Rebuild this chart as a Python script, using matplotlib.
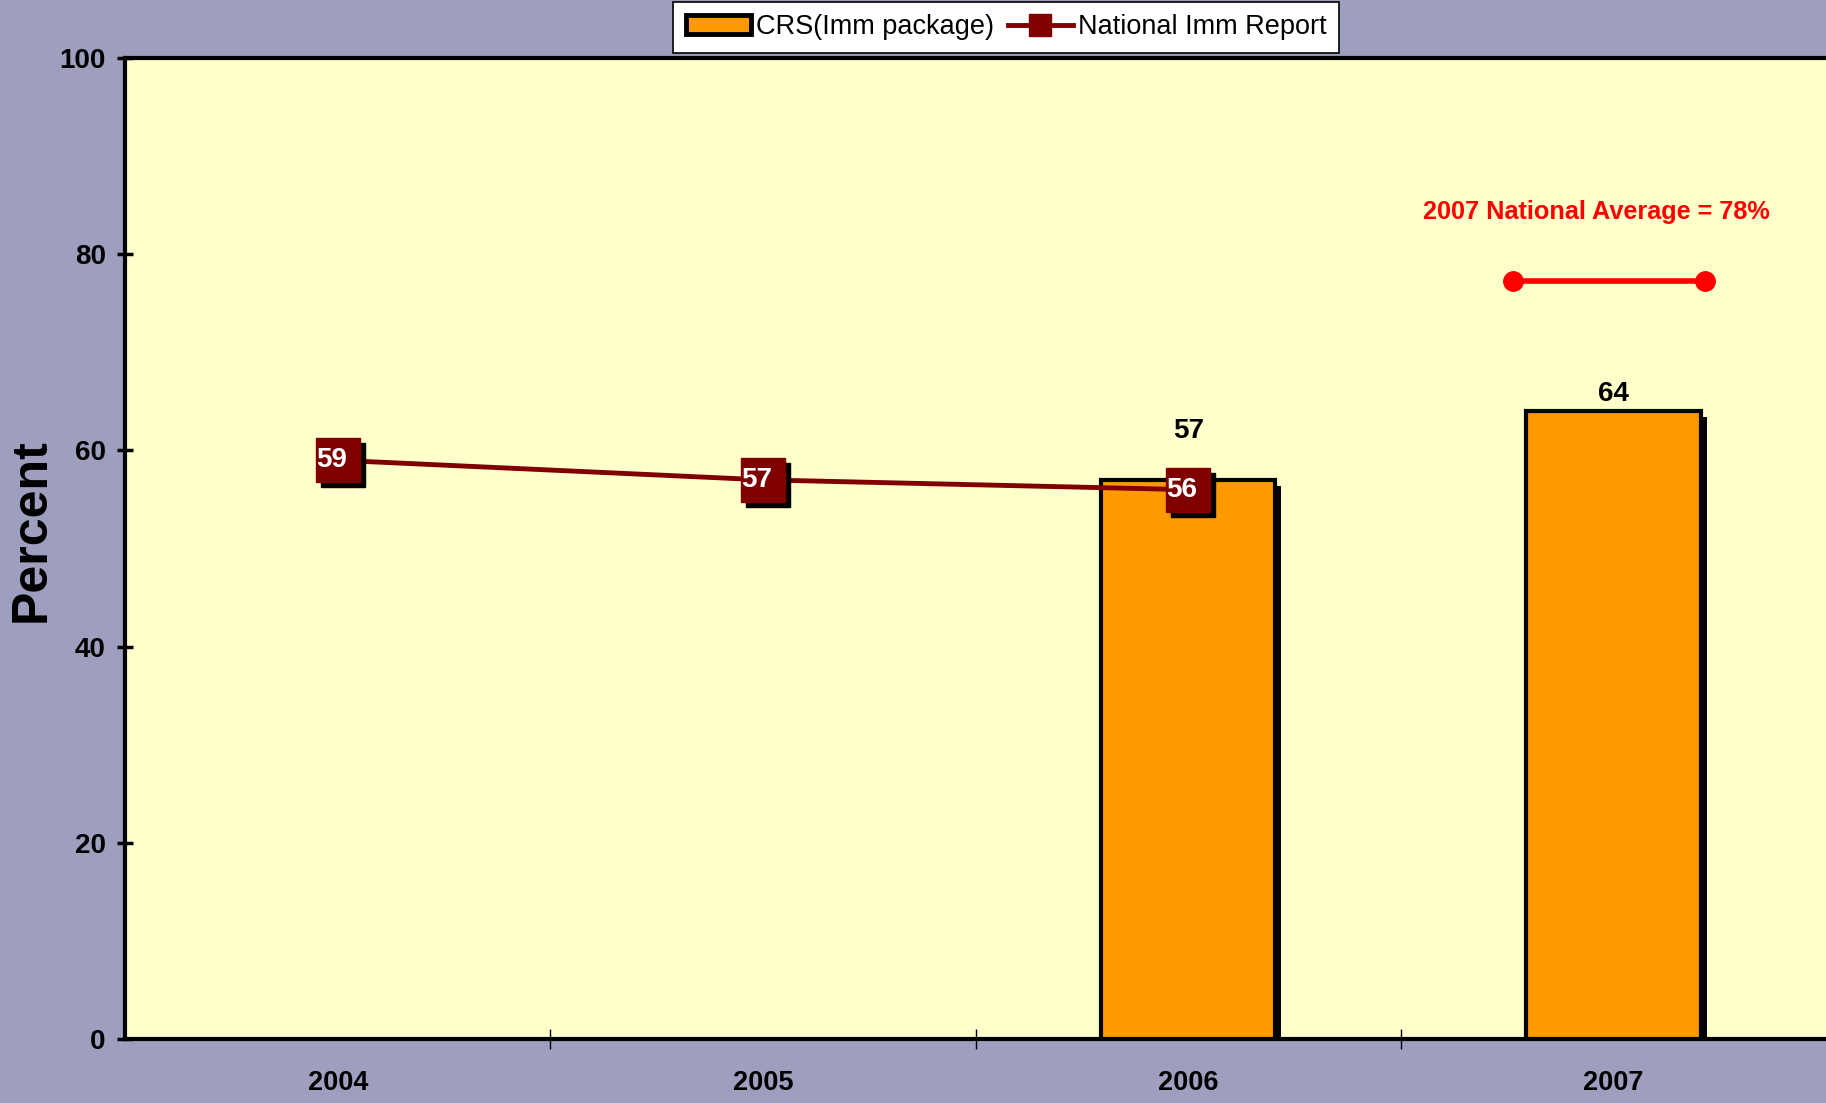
import numpy as np
import matplotlib
matplotlib.use('Agg')
import matplotlib.pyplot as plt
from matplotlib.patches import Patch
from matplotlib.lines import Line2D
from matplotlib.transforms import offset_copy

plt.rcParams['font.family'] = ['Liberation Sans', 'DejaVu Sans']

# data
years = ['2004', '2005', '2006', '2007']
crs = [np.nan, np.nan, 57, 64]            # CRS (Imm package)
national = [59, 57, 56]                   # National Imm Report (2004-2006)
crs_label_y = [None, None, 62.0, 65.8]    # where the bar labels sit
nat_avg_value = 77.3                      # drawn level of the 2007 national average
nat_avg_text = '2007 National Average = 78%'
nat_avg_halfwidth = 0.225

bg = '#9e9fbf'
plot_bg = '#ffffcc'
bar_col = '#ff9900'
line_col = '#800000'

fig = plt.figure(figsize=(18.26, 11.03), dpi=100, facecolor=bg)
ax = fig.add_axes([0.0685, 0.058, 0.9315, 0.8894])
ax.set_facecolor(plot_bg)

x = np.arange(len(years))

# bars with drop shadow
shadow_bar = offset_copy(ax.transData, fig=fig, x=6, y=-6, units='dots')
ax.bar(x, crs, width=0.41, color='black', transform=shadow_bar, zorder=2)
bars = ax.bar(x, crs, width=0.41, color=bar_col, edgecolor='black',
              linewidth=3, zorder=3)
for xi, v, ly in zip(x, crs, crs_label_y):
    if not np.isnan(v):
        ax.text(xi, ly, '%d' % v, ha='center', va='center', fontsize=20,
                fontweight='bold', zorder=6)

# national line with square markers and shadow
xn = x[:len(national)]
ax.plot(xn, national, color=line_col, lw=3.5, zorder=4)
shadow_mk = offset_copy(ax.transData, fig=fig, x=5, y=-5, units='dots')
ax.plot(xn, national, ls='none', marker='s', markersize=31, color='black',
        transform=shadow_mk, zorder=4)
ax.plot(xn, national, ls='none', marker='s', markersize=31, color=line_col,
        zorder=5)
for xi, v in zip(xn, national):
    ax.text(xi - 0.015, v, '%d' % v, ha='center', va='center', color='white',
            fontsize=20, fontweight='bold', zorder=6)

# national average marker for 2007
ax.plot([2.99 - nat_avg_halfwidth, 2.99 + nat_avg_halfwidth],
        [nat_avg_value] * 2, color='#ff0000', lw=4, marker='o',
        markersize=14, zorder=5)
ax.text(2.96, 84.3, nat_avg_text, color='#ff0000', ha='center', va='center',
        fontsize=18.2, fontweight='bold', zorder=6)

ax.set_xlim(-0.5, 3.5)
ax.set_ylim(0, 100)
ax.set_yticks([0, 20, 40, 60, 80, 100])
ax.tick_params(axis='y', direction='inout', length=12, width=2.5, pad=8,
               labelsize=20)
for lab in ax.get_yticklabels():
    lab.set_fontweight('bold')

ax.set_xticks([0.5, 1.5, 2.5])
ax.set_xticklabels([])
ax.tick_params(axis='x', which='major', direction='inout', length=14, width=1)
ax.set_xticks(x, minor=True)
ax.set_xticklabels(years, minor=True, fontsize=19.5, fontweight='bold')
ax.tick_params(axis='x', which='minor', length=0, pad=22)

for s in ['left', 'bottom', 'top']:
    ax.spines[s].set_linewidth(3)
ax.spines['right'].set_visible(False)

fig.text(32 / 1826, 1 - 530 / 1103, 'Percent', rotation=90, ha='center',
         va='center', fontsize=36, fontweight='bold')

handles = [Patch(facecolor=bar_col, edgecolor='black', linewidth=3.5),
           Line2D([], [], color=line_col, lw=3.5, marker='s', markersize=16)]
leg = fig.legend(handles, ['CRS(Imm package)', 'National Imm Report'],
                 loc='upper center', bbox_to_anchor=(0.551, 0.998), ncol=2,
                 fontsize=19.5, frameon=True, fancybox=False, borderpad=0.45,
                 borderaxespad=0.0, handlelength=2.4, handletextpad=0.2,
                 columnspacing=0.5)
leg.get_frame().set_edgecolor('black')
leg.get_frame().set_facecolor('white')
leg.get_frame().set_alpha(1)
leg.get_frame().set_linewidth(1.2)

fig.savefig('out.png', dpi=100, facecolor=bg)
